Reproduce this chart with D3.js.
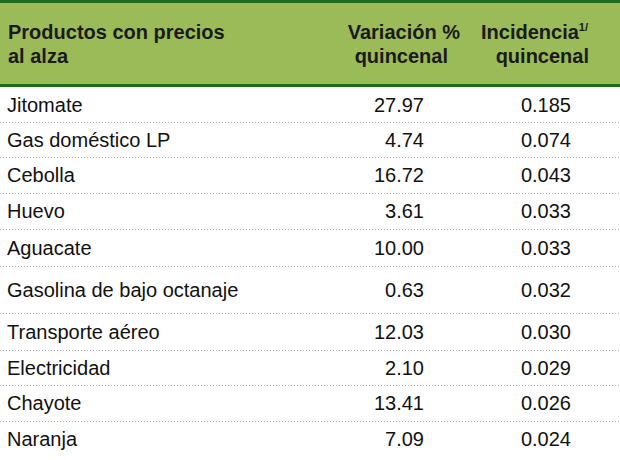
<!DOCTYPE html>
<html><head><meta charset="utf-8">
<script src="https://cdn.jsdelivr.net/npm/d3@7"></script>
<style>body{margin:0;background:#fff} svg text{font-family:Arial,"Liberation Sans",sans-serif}</style>
</head><body><div id="chart"></div>
<script>
const productos = ["Jitomate","Gas doméstico LP","Cebolla","Huevo","Aguacate","Gasolina de bajo octanaje","Transporte aéreo","Electricidad","Chayote","Naranja"];
const variacion = ["27.97","4.74","16.72","3.61","10.00","0.63","12.03","2.10","13.41","7.09"];
const incidencia = ["0.185","0.074","0.043","0.033","0.033","0.032","0.030","0.029","0.026","0.024"];
// row boundaries (Gasolina row is taller)
const rowEdges = [87,122,157,193,229,266,313,350,385,421,456];

const W = 620, H = 460;
const svg = d3.select("#chart").append("svg").attr("width", W).attr("height", H);

svg.append("rect").attr("x", 0).attr("y", 0).attr("width", W).attr("height", 86).attr("fill", "#9bbb59");
svg.append("rect").attr("x", 0).attr("y", 0).attr("width", W).attr("height", 3).attr("fill", "#1e6b1e");
svg.append("rect").attr("x", 0).attr("y", 84).attr("width", W).attr("height", 3).attr("fill", "#1e6b1e");

const head = svg.append("g").style("font-weight", "bold").style("font-size", "20px").attr("fill", "#1a1a1a");
head.append("text").attr("x", 8).attr("y", 39).text("Productos con precios");
head.append("text").attr("x", 8).attr("y", 63).text("al alza");
head.append("text").attr("x", 460).attr("y", 39).attr("text-anchor", "end").text("Variación %");
head.append("text").attr("x", 448).attr("y", 63).attr("text-anchor", "end").text("quincenal");
const inc = head.append("text").attr("x", 481).attr("y", 39);
inc.append("tspan").text("Incidencia");
inc.append("tspan").attr("dy", -8).style("font-size", "11px").text("1/");
head.append("text").attr("x", 589).attr("y", 63).attr("text-anchor", "end").text("quincenal");

const y = i => (rowEdges[i] + rowEdges[i + 1]) / 2;
const rows = svg.selectAll("g.row").data(productos).enter().append("g").attr("class", "row")
    .style("font-size", "20px").attr("fill", "#111");
rows.append("text").attr("x", 7).attr("y", (d, i) => y(i) + 7).text(d => d);
rows.append("text").attr("x", 424).attr("y", (d, i) => y(i) + 7).attr("text-anchor", "end").text((d, i) => variacion[i]);
rows.append("text").attr("x", 571).attr("y", (d, i) => y(i) + 7).attr("text-anchor", "end").text((d, i) => incidencia[i]);

svg.selectAll("line.sep").data(rowEdges.slice(1, -1)).enter().append("line")
    .attr("x1", 0).attr("x2", W).attr("y1", d => d + 0.5).attr("y2", d => d + 0.5)
    .attr("stroke", "#aaa").attr("stroke-width", 1).attr("stroke-dasharray", "1,2");
</script></body></html>
